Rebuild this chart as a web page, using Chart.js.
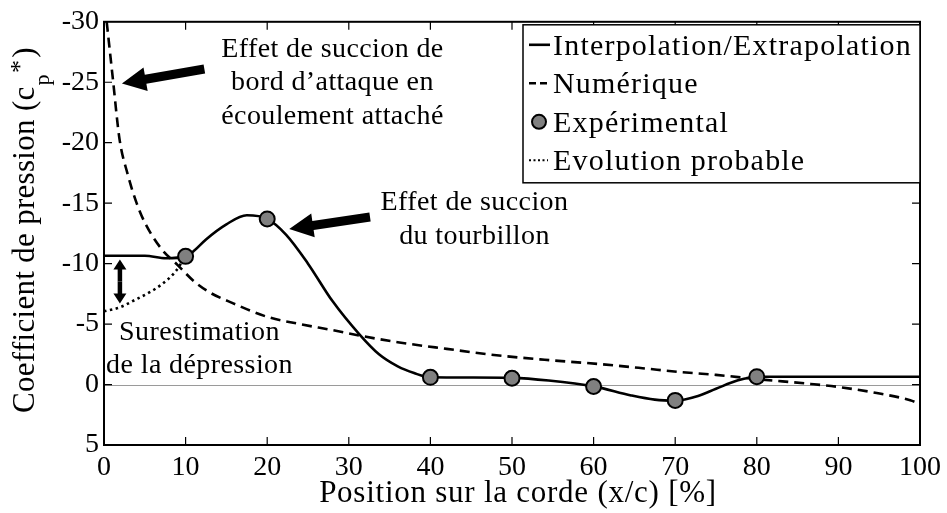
<!DOCTYPE html>
<html>
<head>
<meta charset="utf-8">
<script src="https://cdn.jsdelivr.net/npm/chart.js@4.4.1/dist/chart.umd.min.js"></script>
<style>
  html, body { margin: 0; padding: 0; background: #fff; }
  #chart { display: block; }
</style>
</head>
<body>
<canvas id="chart" width="947" height="513"></canvas>
<script>
// --- données (x/c en %, cp*) ---
const interpX = [0, 5, 7.6, 10, 11.1, 12.5, 15, 17.5, 20, 22.3, 25, 28, 31.3, 33.7, 36, 38, 40, 45, 50, 54.5, 60, 64.6, 67.5, 70, 72.8, 75, 77.7, 80, 90, 100];
const interpY = [-10.65, -10.65, -10.45, -10.6, -11.1, -12.0, -13.25, -14.0, -13.7, -12.4, -10.0, -6.9, -4.15, -2.5, -1.5, -0.95, -0.6, -0.58, -0.55, -0.33, 0.15, 0.9, 1.25, 1.33, 0.95, 0.35, -0.35, -0.65, -0.65, -0.65];

const numX = [0.33, 1.1, 1.9, 2.9, 4.0, 5, 7, 9, 11.1, 13, 15.2, 20, 24, 28, 31.7, 36, 42, 48.4, 54, 60.6, 66, 70.3, 75, 80, 86.6, 90, 94.7, 98.8, 100];
const numY = [-30, -25.2, -20.3, -17.4, -15, -13.4, -11.25, -9.9, -8.5, -7.6, -6.9, -5.6, -5.0, -4.5, -4.0, -3.5, -2.95, -2.4, -2.05, -1.7, -1.35, -1.05, -0.8, -0.45, -0.05, 0.2, 0.7, 1.3, 1.6];

const probX = [0, 2, 3.8, 5.5, 7, 8.7, 10];
const probY = [-6.05, -6.4, -7.0, -7.6, -8.25, -9.3, -10.6];

const expX = [10, 20, 40, 50, 60, 70, 80];
const expY = [-10.6, -13.7, -0.6, -0.52, 0.16, 1.31, -0.65];

const xTicks = [0, 10, 20, 30, 40, 50, 60, 70, 80, 90, 100];
const yTicks = [-30, -25, -20, -15, -10, -5, 0, 5];

const legendLabels = ['Interpolation/Extrapolation', 'Numérique', 'Expérimental', 'Evolution probable'];

const SERIF = "'Liberation Serif', 'Times New Roman', serif";
const pts = (xs, ys) => xs.map((x, i) => ({ x, y: ys[i] }));

// flèche pleine (tige + tête triangulaire)
function arrow(ctx, x1, y1, x2, y2, shaft, headLen, headW) {
  const a = Math.atan2(y2 - y1, x2 - x1);
  const len = Math.hypot(x2 - x1, y2 - y1);
  ctx.save();
  ctx.translate(x1, y1);
  ctx.rotate(a);
  ctx.beginPath();
  ctx.moveTo(0, -shaft / 2);
  ctx.lineTo(len - headLen, -shaft / 2);
  ctx.lineTo(len - headLen, -headW / 2);
  ctx.lineTo(len, 0);
  ctx.lineTo(len - headLen, headW / 2);
  ctx.lineTo(len - headLen, shaft / 2);
  ctx.lineTo(0, shaft / 2);
  ctx.closePath();
  ctx.fill();
  ctx.restore();
}

const decor = {
  id: 'decor',
  beforeDatasetsDraw(chart) {
    const { ctx, chartArea: ca, scales: { y } } = chart;
    // ligne du zéro
    ctx.save();
    ctx.strokeStyle = '#9a9a9a';
    ctx.lineWidth = 1;
    const y0 = Math.round(y.getPixelForValue(0)) + 0.5;
    ctx.beginPath();
    ctx.moveTo(ca.left, y0);
    ctx.lineTo(ca.right, y0);
    ctx.stroke();
    ctx.restore();
  },
  afterDraw(chart) {
    const { ctx, chartArea: ca, scales: { x, y } } = chart;
    const X = v => x.getPixelForValue(v), Y = v => y.getPixelForValue(v);
    ctx.save();

    // cadre + graduations intérieures
    ctx.strokeStyle = '#000';
    ctx.lineWidth = 1.2;
    ctx.beginPath();
    xTicks.slice(1, -1).forEach(v => {
      ctx.moveTo(X(v), ca.bottom); ctx.lineTo(X(v), ca.bottom - 8);
      ctx.moveTo(X(v), ca.top); ctx.lineTo(X(v), ca.top + 8);
    });
    yTicks.slice(1, -1).forEach(v => {
      ctx.moveTo(ca.left, Y(v)); ctx.lineTo(ca.left + 8, Y(v));
      ctx.moveTo(ca.right, Y(v)); ctx.lineTo(ca.right - 8, Y(v));
    });
    ctx.stroke();
    ctx.lineWidth = 2;
    ctx.strokeRect(ca.left, ca.top, ca.right - ca.left, ca.bottom - ca.top);

    // titre de l'axe x
    ctx.fillStyle = '#000';
    ctx.font = `31px ${SERIF}`;
    ctx.letterSpacing = '0.75px';
    ctx.textAlign = 'center';
    ctx.textBaseline = 'middle';
    ctx.fillText('Position sur la corde (x/c) [%]', (ca.left + ca.right) / 2 + 6, 494);

    // titre de l'axe y : Coefficient de pression (c*p)
    ctx.save();
    ctx.translate(34, 413);
    ctx.rotate(-Math.PI / 2);
    ctx.textAlign = 'left';
    ctx.textBaseline = 'alphabetic';
    ctx.letterSpacing = '0.3px';
    ctx.font = `31px ${SERIF}`;
    const main = 'Coefficient de pression (c';
    ctx.fillText(main, 0, 0);
    let w = ctx.measureText(main).width;
    ctx.font = `22px ${SERIF}`;
    ctx.fillText('p', w + 1, 15);
    const pw = ctx.measureText('p').width;
    ctx.font = `26px ${SERIF}`;
    ctx.fillText('*', w + pw + 2, -6);
    const sw = ctx.measureText('*').width;
    ctx.font = `31px ${SERIF}`;
    ctx.fillText(')', w + pw + sw + 4, 0);
    ctx.restore();

    // annotations
    ctx.font = `28px ${SERIF}`;
    ctx.letterSpacing = '0.4px';
    ctx.textAlign = 'center';
    ctx.textBaseline = 'alphabetic';
    const note = (cx, cy, lines) => lines.forEach((t, i) => ctx.fillText(t, X(cx), Y(cy) + i * 33.5));
    note(28, -27.1, ['Effet de succion de', 'bord d\u2019attaque en', 'écoulement attaché']);
    note(45.4, -14.4, ['Effet de succion', 'du tourbillon']);
    note(11.7, -3.7, ['Surestimation', 'de la dépression']);
    ctx.letterSpacing = '0px';

    ctx.fillStyle = '#000';
    arrow(ctx, X(12.3), Y(-26.1), X(2.2), Y(-24.9), 9, 24, 24);
    arrow(ctx, X(32.6), Y(-13.85), X(22.7), Y(-12.87), 9, 24, 24);
    // double flèche verticale
    const dx = X(1.95), ya = Y(-10.35), yb = Y(-6.7), ym = (ya + yb) / 2;
    arrow(ctx, dx, ym, dx, ya, 4.5, 10, 13);
    arrow(ctx, dx, ym, dx, yb, 4.5, 10, 13);

    // légende
    const lgR = ca.right, lgL = lgR - 397, lgT = ca.top + 3, lgB = lgT + 158;
    ctx.fillStyle = '#fff';
    ctx.fillRect(lgL, lgT, lgR - lgL, lgB - lgT);
    ctx.strokeStyle = '#000';
    ctx.lineWidth = 1.5;
    ctx.strokeRect(lgL, lgT, lgR - lgL, lgB - lgT);
    ctx.font = `30px ${SERIF}`;
    ctx.letterSpacing = '1.2px';
    ctx.textAlign = 'left';
    ctx.fillStyle = '#000';
    legendLabels.forEach((lab, i) => {
      const cy = lgT + 20 + i * 38.5;
      const sx = lgL + 6, ex = lgL + 27;
      ctx.lineWidth = 2.6;
      ctx.beginPath();
      if (i === 0) {
        ctx.setLineDash([]);
        ctx.moveTo(sx, cy); ctx.lineTo(ex, cy); ctx.stroke();
      } else if (i === 1) {
        ctx.setLineDash([7, 4]);
        ctx.moveTo(sx, cy); ctx.lineTo(ex - 2, cy); ctx.stroke();
      } else if (i === 2) {
        ctx.setLineDash([]);
        ctx.arc(lgL + 16, cy, 7, 0, Math.PI * 2);
        ctx.fillStyle = '#808080';
        ctx.fill();
        ctx.lineWidth = 2;
        ctx.stroke();
        ctx.fillStyle = '#000';
      } else {
        ctx.setLineDash([2, 2.5]);
        ctx.lineWidth = 2;
        ctx.moveTo(sx, cy); ctx.lineTo(ex - 2, cy); ctx.stroke();
      }
      ctx.setLineDash([]);
      ctx.fillText(lab, lgL + 30, cy + 10);
    });
    ctx.letterSpacing = '0px';

    ctx.restore();
  }
};

Chart.defaults.font.family = SERIF;
Chart.defaults.color = '#000';

new Chart(document.getElementById('chart'), {
  type: 'scatter',
  data: {
    datasets: [
      {
        label: 'Expérimental',
        data: pts(expX, expY),
        showLine: false,
        pointRadius: 7.5,
        pointBackgroundColor: '#808080',
        pointBorderColor: '#000',
        pointBorderWidth: 2
      },
      {
        label: 'Interpolation/Extrapolation',
        data: pts(interpX, interpY),
        showLine: true,
        borderColor: '#000',
        borderWidth: 2.6,
        pointRadius: 0,
        cubicInterpolationMode: 'monotone'
      },
      {
        label: 'Numérique',
        data: pts(numX, numY),
        showLine: true,
        borderColor: '#000',
        borderWidth: 2.6,
        borderDash: [10, 6],
        pointRadius: 0,
        cubicInterpolationMode: 'monotone'
      },
      {
        label: 'Evolution probable',
        data: pts(probX, probY),
        showLine: true,
        borderColor: '#000',
        borderWidth: 2.6,
        borderDash: [2.5, 3.5],
        pointRadius: 0,
        cubicInterpolationMode: 'monotone'
      }
    ]
  },
  options: {
    responsive: false,
    devicePixelRatio: 1,
    animation: false,
    layout: { padding: { top: 18, right: 24, left: 0, bottom: 0 } },
    plugins: { legend: { display: false }, tooltip: { enabled: false } },
    scales: {
      x: {
        type: 'linear',
        min: 0, max: 100,
        afterBuildTicks: s => { s.ticks = xTicks.map(v => ({ value: v })); },
        afterFit: s => { s.height = 68; },
        ticks: { font: { size: 28 }, padding: 6, maxRotation: 0 },
        grid: { display: false, drawTicks: false },
        border: { display: false }
      },
      y: {
        type: 'linear',
        min: -30, max: 5,
        reverse: true,
        afterBuildTicks: s => { s.ticks = yTicks.map(v => ({ value: v })); },
        afterFit: s => { s.width = 104; },
        ticks: { font: { size: 28 }, padding: 5 },
        grid: { display: false, drawTicks: false },
        border: { display: false }
      }
    }
  },
  plugins: [decor]
});
</script>
</body>
</html>
